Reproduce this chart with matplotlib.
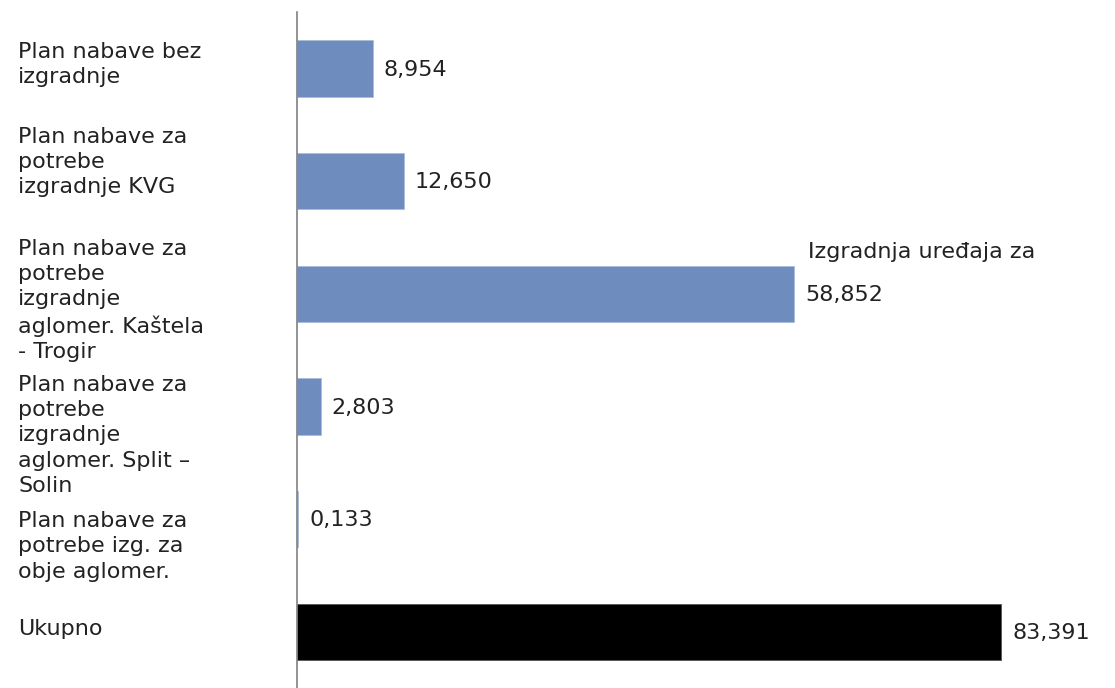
#!/usr/bin/env python3

import numpy as np
import matplotlib
matplotlib.use('Agg')
import matplotlib.pyplot as plt
from matplotlib import transforms

categories = ['Plan nabave bez\nizgradnje',
              'Plan nabave za\npotrebe\nizgradnje KVG',
              'Plan nabave za\npotrebe\nizgradnje\naglomer. Kaštela\n- Trogir',
              'Plan nabave za\npotrebe\nizgradnje\naglomer. Split \u2013\nSolin',
              'Plan nabave za\npotrebe izg. za\nobje aglomer.',
              'Ukupno']
values = [8.954, 12.650, 58.852, 2.803, 0.133, 83.391]
value_labels = ['8,954', '12,650', '58,852', '2,803', '0,133', '83,391']
stray_text = 'Izgradnja uređaja za'

# style
bar_colors = ['#6E8DBE'] * 5 + ['#000000']
# baseline of the last line of each label, relative to the bar centre
label_offsets = [0.13, 0.11, 0.57, 0.76, 0.52, 0.03]
fs = 16

plt.rcParams['font.family'] = ['DejaVu Sans']

fig = plt.figure(figsize=(11.15, 6.88), dpi=100)
ax = fig.add_axes([297 / 1115, 0.0, 1 - 297 / 1115, 1 - 12 / 688])

y = np.arange(len(categories))
ax.barh(y, values, height=0.5, color=bar_colors, edgecolor='#A9BCD9', linewidth=0.6)
ax.patches[-1].set_edgecolor('#555555')

ax.set_ylim(len(categories) - 0.5, -0.5)
ax.set_xlim(0, 96.9)

for sp in ['top', 'right', 'bottom']:
    ax.spines[sp].set_visible(False)
ax.spines['left'].set_color('#808080')
ax.spines['left'].set_linewidth(1.2)
ax.set_xticks([])
ax.set_yticks([])

# category labels, left aligned at the figure edge
trans = transforms.blended_transform_factory(fig.transFigure, ax.transData)
for i, (lab, off) in enumerate(zip(categories, label_offsets)):
    ax.text(18 / 1115, i + off, lab, transform=trans, ha='left', va='baseline',
            fontsize=fs, color='#222222', linespacing=1.33, clip_on=False)

# value labels
for i, (v, lab) in enumerate(zip(values, value_labels)):
    ax.annotate(lab, xy=(v, i), xytext=(8, -1), textcoords='offset points',
                ha='left', va='center', fontsize=fs, color='#222222',
                annotation_clip=False)

fig.text(808 / 1115, 1 - 252 / 688, stray_text, ha='left', va='center',
         fontsize=fs, color='#222222')

fig.savefig('out.png', dpi=100, facecolor='white')
